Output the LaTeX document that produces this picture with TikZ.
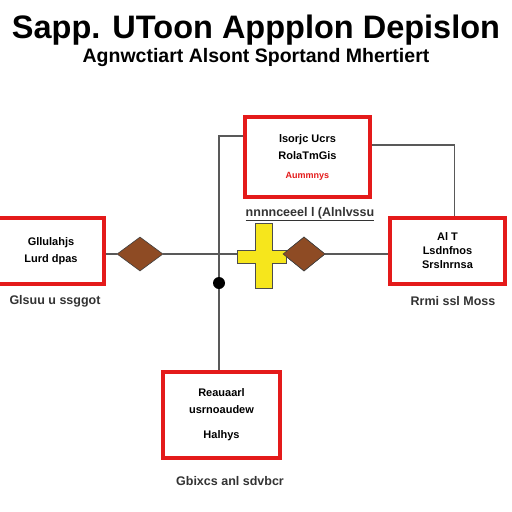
\documentclass[tikz,border=0pt]{standalone}
\usepackage{fontspec}
\setmainfont{Liberation Sans}
\usetikzlibrary{shapes.geometric}
\definecolor{boxred}{HTML}{E41A1A}
\definecolor{choicebrown}{HTML}{8E4B24}
\definecolor{joinyellow}{HTML}{F6E61C}
\tikzset{
  redbox/.style={draw=boxred,line width=3.2pt,fill=white,align=center,
    inner sep=2pt,font=\fontsize{11}{17}\selectfont\bfseries},
  choice/.style={diamond,draw=black!75,fill=choicebrown,line width=0.6pt,
    minimum width=46pt,minimum height=34pt,inner sep=0pt},
  wire/.style={black!65,line width=1.1pt},
  caption/.style={font=\fontsize{12.5}{14}\selectfont\bfseries,text=black!80},
}
\begin{document}
\begin{tikzpicture}[x=1pt,y=-1pt]
  \fill[white] (0,0) rectangle (512,512);
  \useasboundingbox (0,0) rectangle (512,512);
  % heading
  \node[font=\fontsize{32.5}{34}\selectfont\bfseries] (title) at (256,30) {Sapp. UToon Appplon Depislon};
  \node[font=\fontsize{19.5}{21}\selectfont\bfseries] (subtitle) at (256,57) {Agnwctiart Alsont Sportand Mhertiert};
  % boxes
  \node[redbox,minimum width=125pt,minimum height=80pt] (upper) at (307.5,157)
    {lsorjc Ucrs\\RolaTmGis\\[2pt]{\color{boxred}\fontsize{9}{10}\selectfont Aummnys}};
  \node[redbox,minimum width=106pt,minimum height=66pt] (left) at (51,251) {Gllulahjs\\Lurd dpas};
  \node[redbox,minimum width=115pt,minimum height=66pt] (right) at (447.5,251)
    {Al T\\[-3pt]Lsdnfnos\\[-3pt]Srslnrnsa};
  \node[redbox,minimum width=117pt,minimum height=86pt] (lower) at (221.5,415)
    {Reauaarl\\usrnoaudew\\[8pt]Halhys};
  \node[caption] (leftcap) at (55,301) {Glsuu u ssggot};
  \node[caption] (rightcap) at (453,301) {Rrmi ssl Moss};
  \node[caption] (lowercap) at (230,481) {Gbixcs anl sdvbcr};
  \node[caption] (joincap) at (310,214) {\underline{nnnnceeel l (Alnlvssu}};
  % junctions
  \node[choice] (dia1) at (140,254) {};
  \node[choice,minimum width=42pt] (dia2) at (304,254) {};
  \node[circle,fill=black,minimum size=12pt,inner sep=0pt] (dot) at (219,283) {};
  % connectors
  \draw[wire] (left.east |- dia1) -- (dia1.west);
  \draw[wire] (dia1.east) -- (dia2.west);
  \draw[wire] (dia2.east) -- (right.west |- dia2);
  \draw[wire] ([yshift=21pt]upper.west) -| (dot.north);
  \draw[wire] (dot.south) -- (lower.north -| dot);
  \draw[wire] ([yshift=12pt]upper.east) -| ([xshift=7pt]right.north);
  % yellow cross
  \filldraw[fill=joinyellow,draw=black!70,line width=0.8pt]
    (255,223) -- (272,223) -- (272,250) -- (286,250) -- (286,263) -- (272,263)
    -- (272,288) -- (255,288) -- (255,263) -- (237,263) -- (237,250) -- (255,250) -- cycle;
  \node[choice,minimum width=42pt] at (dia2) {};
\end{tikzpicture}
\end{document}
